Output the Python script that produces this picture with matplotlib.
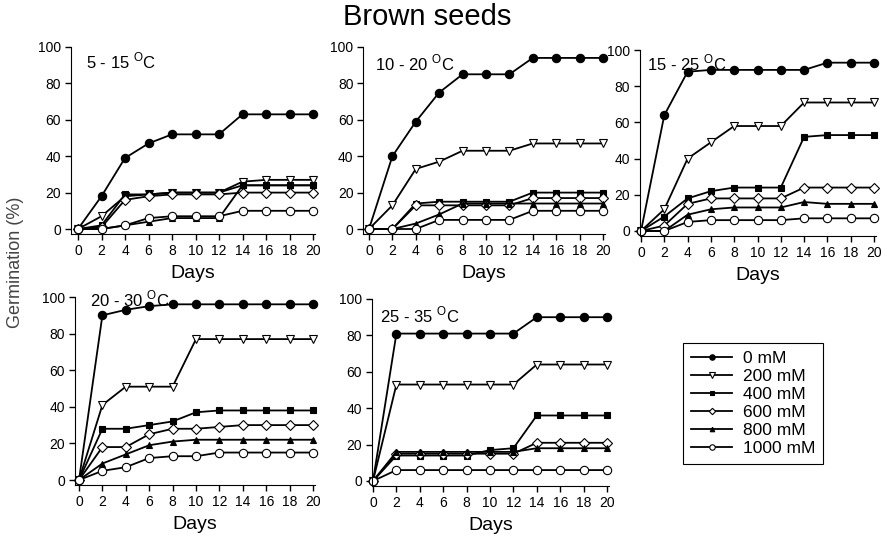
"""
Brown seeds: germination (%) over 20 days at five alternating temperature
regimes and six NaCl concentrations.

Output:
    out.png
"""

import matplotlib

matplotlib.use("Agg")
import matplotlib.pyplot as plt

plt.rcParams["font.family"] = ["Liberation Sans", "DejaVu Sans"]
plt.rcParams["mathtext.fontset"] = "custom"
plt.rcParams["mathtext.rm"] = "Liberation Sans"

days = [0, 2, 4, 6, 8, 10, 12, 14, 16, 18, 20]
concentrations = ["0 mM", "200 mM", "400 mM", "600 mM", "800 mM", "1000 mM"]
regimes = ["5 - 15", "10 - 20", "15 - 25", "20 - 30", "25 - 35"]

# germination (%) per regime, one row per concentration
germ_5_15 = [
    [0, 18, 39, 47, 52, 52, 52, 63, 63, 63, 63],
    [0, 7, 18, 19, 20, 20, 20, 26, 27, 27, 27],
    [0, 2, 19, 19, 20, 20, 20, 24, 24, 24, 24],
    [0, 1, 16, 18, 19, 19, 19, 20, 20, 20, 20],
    [0, 0, 2, 4, 6, 6, 6, 24, 24, 24, 24],
    [0, 0, 2, 6, 7, 7, 7, 10, 10, 10, 10],
]
germ_10_20 = [
    [0, 40, 59, 75, 85, 85, 85, 94, 94, 94, 94],
    [0, 13, 33, 37, 43, 43, 43, 47, 47, 47, 47],
    [0, 0, 14, 15, 15, 15, 15, 20, 20, 20, 20],
    [0, 0, 13, 13, 13, 13, 13, 17, 17, 17, 17],
    [0, 0, 3, 8, 14, 14, 14, 14, 14, 14, 14],
    [0, 0, 0, 5, 5, 5, 5, 10, 10, 10, 10],
]
germ_15_25 = [
    [0, 64, 88, 89, 89, 89, 89, 89, 93, 93, 93],
    [0, 12, 40, 49, 58, 58, 58, 71, 71, 71, 71],
    [0, 8, 18, 22, 24, 24, 24, 52, 53, 53, 53],
    [0, 3, 15, 18, 18, 18, 18, 24, 24, 24, 24],
    [0, 0, 9, 12, 13, 13, 13, 16, 15, 15, 15],
    [0, 0, 5, 6, 6, 6, 6, 7, 7, 7, 7],
]
germ_20_30 = [
    [0, 90, 93, 95, 96, 96, 96, 96, 96, 96, 96],
    [0, 41, 51, 51, 51, 77, 77, 77, 77, 77, 77],
    [0, 28, 28, 30, 32, 37, 38, 38, 38, 38, 38],
    [0, 18, 18, 25, 28, 28, 29, 30, 30, 30, 30],
    [0, 9, 14, 19, 21, 22, 22, 22, 22, 22, 22],
    [0, 5, 7, 12, 13, 13, 15, 15, 15, 15, 15],
]
germ_25_35 = [
    [0, 81, 81, 81, 81, 81, 81, 90, 90, 90, 90],
    [0, 53, 53, 53, 53, 53, 53, 64, 64, 64, 64],
    [0, 14, 14, 14, 14, 17, 18, 36, 36, 36, 36],
    [0, 15, 15, 15, 15, 15, 15, 21, 21, 21, 21],
    [0, 16, 16, 16, 16, 16, 16, 18, 18, 18, 18],
    [0, 6, 6, 6, 6, 6, 6, 6, 6, 6, 6],
]
panels = [germ_5_15, germ_10_20, germ_15_25, germ_20_30, germ_25_35]

markers = ["o", "v", "s", "D", "^", "o"]
faces = ["black", "white", "black", "white", "black", "white"]
sizes = [6, 6, 5, 5, 5, 6]

W, H = 886, 540
# pixel positions of (x=0, x=20, y=0, y=100) and left pad in days, per panel
layout = [
    (78, 313, 229, 47, 0.6),
    (369, 603, 229, 47, 0.5),
    (641, 874, 231, 50, 0.1),
    (79, 313, 480, 297, 0.35),
    (373, 607, 481, 299, 0.1),
]
label_pos = [(0.7, 92), (0.5, 91), (0.5, 93), (0.9, 99), (0.6, 91)]

fig = plt.figure(figsize=(W / 100, H / 100), dpi=100)

for data, (x0, x20, y0, y100, pad), regime, (tx, ty) in zip(
    panels, layout, regimes, label_pos
):
    xs = (x20 - x0) / 20.0
    ys = (y0 - y100) / 100.0
    xmin, xmax = -pad, 20.15
    ymin, ymax = -3.0, 100.0
    left = x0 + xmin * xs
    right = x0 + xmax * xs
    bottom = y0 - ymin * ys
    top = y0 - ymax * ys
    ax = fig.add_axes(
        [left / W, 1 - bottom / H, (right - left) / W, (bottom - top) / H]
    )
    for row, m, fc, ms in zip(data, markers, faces, sizes):
        ax.plot(
            days, row, color="black", lw=1.3, marker=m, markersize=ms,
            markerfacecolor=fc, markeredgecolor="black", markeredgewidth=0.8,
            clip_on=False,
        )
    ax.set_xlim(xmin, xmax)
    ax.set_ylim(ymin, ymax)
    ax.set_xticks(days)
    ax.set_yticks([0, 20, 40, 60, 80, 100])
    ax.spines["top"].set_visible(False)
    ax.spines["right"].set_visible(False)
    ax.tick_params(direction="out", length=4, width=1, labelsize=10, pad=3)
    ax.set_xlabel("Days", fontsize=14, labelpad=5)
    ax.text(tx, ty, regime + r" $^{\mathrm{O}}$C", fontsize=12,
            va="center", ha="left")

fig.text(427 / W, 1 - 17 / H, "Brown seeds", fontsize=21,
         ha="center", va="center")
fig.text(16 / W, 1 - 262 / H, "Germination (%)", fontsize=13,
         rotation=90, ha="center", va="center", color="#444444")

handles = fig.axes[0].get_lines()
leg = fig.legend(
    handles, concentrations, loc="upper left",
    bbox_to_anchor=(683 / W, 1 - 343 / H), fontsize=12.5,
    frameon=True, fancybox=False, edgecolor="black", framealpha=1,
    handlelength=2.4, handletextpad=0.6, borderpad=0.45, borderaxespad=0,
    labelspacing=0.17, markerscale=0.65,
)
leg.get_frame().set_linewidth(0.8)

fig.savefig("out.png", dpi=100)
plt.close(fig)
